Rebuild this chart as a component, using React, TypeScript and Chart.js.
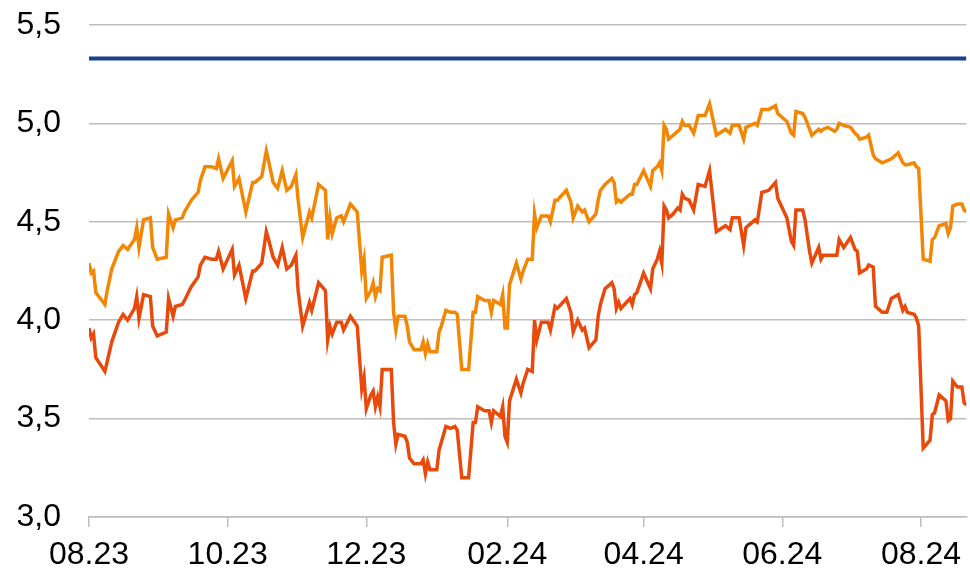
import { useEffect, useRef } from 'react';
import { Chart, registerables } from 'chart.js';

Chart.register(...registerables);

// x positions: days since 01.08.2023
const days = [
  0, 1, 2, 3, 7, 8, 10, 13, 15, 17,
  20, 21, 22, 24, 27, 28, 30, 34, 35, 37,
  38, 41, 42, 45, 48, 49, 51, 54, 56, 57,
  59, 63, 64, 66, 69, 72, 73, 76, 78, 79,
  81, 83, 85, 87, 89, 91, 92, 94, 97, 98,
  101, 104, 105, 106, 107, 109, 111, 112, 115, 118,
  120, 121, 122, 124, 125, 126, 127, 128, 129, 133,
  134, 135, 136, 139, 140, 141, 143, 146, 147, 148,
  149, 150, 153, 154, 155, 157, 159, 161, 162, 164,
  167, 169, 170, 171, 174, 176, 177, 178, 181, 182,
  183, 184, 185, 188, 190, 191, 193, 195, 196, 197,
  199, 202, 203, 205, 206, 210, 212, 213, 215, 217,
  218, 220, 223, 224, 225, 227, 230, 231, 232, 233,
  234, 238, 239, 240, 241, 244, 247, 248, 250, 251,
  252, 253, 254, 255, 257, 259, 260, 261, 262, 264,
  266, 268, 271, 273, 276, 280, 282, 283, 286, 288,
  289, 293, 294, 296, 299, 302, 303, 307, 309, 310,
  311, 314, 315, 317, 318, 321, 322, 323, 325, 328,
  329, 330, 332, 335, 337, 338, 339, 342, 343, 345,
  346, 349, 351, 353, 356, 358, 359, 360, 363, 364,
  365, 367, 370, 371, 372, 374, 377, 378, 379, 380,
  382, 384, 385, 386,
];

const orangeSeries = [
  4.29, 4.24, 4.25, 4.14, 4.08, 4.15, 4.26, 4.35, 4.38, 4.36,
  4.41, 4.47, 4.37, 4.51, 4.52, 4.37, 4.31, 4.32, 4.54, 4.47,
  4.51, 4.52, 4.55, 4.61, 4.65, 4.71, 4.78, 4.78, 4.77, 4.82,
  4.72, 4.81, 4.68, 4.72, 4.55, 4.70, 4.70, 4.73, 4.86, 4.81,
  4.70, 4.67, 4.76, 4.66, 4.68, 4.74, 4.61, 4.42, 4.55, 4.52,
  4.69, 4.66, 4.41, 4.52, 4.44, 4.52, 4.53, 4.50, 4.59, 4.55,
  4.25, 4.31, 4.11, 4.15, 4.19, 4.12, 4.16, 4.15, 4.32, 4.33,
  4.04, 3.95, 4.02, 4.02, 3.97, 3.89, 3.85, 3.85, 3.89, 3.83,
  3.88, 3.84, 3.84, 3.94, 3.97, 4.05, 4.04, 4.04, 4.03, 3.75,
  3.75, 4.04, 4.04, 4.12, 4.10, 4.10, 4.04, 4.10, 4.08, 4.13,
  3.96, 3.96, 4.18, 4.29, 4.21, 4.25, 4.31, 4.31, 4.54, 4.47,
  4.53, 4.53, 4.50, 4.61, 4.61, 4.66, 4.60, 4.52, 4.58, 4.55,
  4.56, 4.50, 4.54, 4.61, 4.66, 4.69, 4.72, 4.70, 4.60, 4.61,
  4.60, 4.64, 4.64, 4.69, 4.69, 4.76, 4.68, 4.76, 4.78, 4.80,
  4.76, 4.99, 4.97, 4.92, 4.94, 4.96, 4.97, 5.01, 4.99, 4.99,
  4.95, 5.04, 5.04, 5.10, 4.94, 4.97, 4.95, 4.99, 4.99, 4.92,
  4.98, 5.00, 4.99, 5.07, 5.07, 5.09, 5.05, 5.01, 4.95, 4.94,
  5.06, 5.05, 5.03, 4.97, 4.94, 4.97, 4.96, 4.97, 4.98, 4.96,
  4.97, 5.00, 4.99, 4.98, 4.95, 4.94, 4.92, 4.93, 4.94, 4.84,
  4.82, 4.80, 4.81, 4.82, 4.85, 4.80, 4.79, 4.79, 4.80, 4.78,
  4.77, 4.31, 4.30, 4.41, 4.42, 4.48, 4.49, 4.44, 4.47, 4.58,
  4.59, 4.59, 4.56, 4.55,
];

const redSeries = [
  3.96, 3.91, 3.93, 3.81, 3.74, 3.79, 3.89, 3.99, 4.03, 4.00,
  4.06, 4.12, 4.01, 4.13, 4.12, 3.97, 3.92, 3.94, 4.11, 4.02,
  4.07, 4.08, 4.10, 4.17, 4.22, 4.28, 4.32, 4.31, 4.31, 4.35,
  4.26, 4.36, 4.23, 4.28, 4.11, 4.25, 4.25, 4.29, 4.45, 4.41,
  4.32, 4.28, 4.37, 4.26, 4.28, 4.33, 4.15, 3.97, 4.09, 4.05,
  4.19, 4.15, 3.90, 3.97, 3.93, 3.99, 3.99, 3.95, 4.02, 3.97,
  3.65, 3.71, 3.55, 3.62, 3.64, 3.56, 3.61, 3.56, 3.75, 3.75,
  3.48, 3.37, 3.42, 3.41, 3.38, 3.30, 3.27, 3.27, 3.29, 3.22,
  3.28, 3.24, 3.24, 3.34, 3.38, 3.46, 3.45, 3.46, 3.44, 3.20,
  3.20, 3.48, 3.48, 3.56, 3.54, 3.54, 3.48, 3.54, 3.51, 3.56,
  3.41, 3.38, 3.59, 3.70, 3.63, 3.68, 3.75, 3.74, 4.00, 3.90,
  3.99, 3.99, 3.95, 4.07, 4.06, 4.11, 4.04, 3.94, 4.00, 3.95,
  3.96, 3.86, 3.90, 4.02, 4.08, 4.16, 4.19, 4.16, 4.06, 4.09,
  4.06, 4.11, 4.08, 4.13, 4.14, 4.24, 4.16, 4.26, 4.31, 4.35,
  4.29, 4.58, 4.56, 4.52, 4.54, 4.57, 4.56, 4.64, 4.62, 4.61,
  4.56, 4.69, 4.68, 4.76, 4.45, 4.48, 4.46, 4.52, 4.52, 4.38,
  4.47, 4.51, 4.50, 4.65, 4.66, 4.70, 4.62, 4.52, 4.40, 4.38,
  4.56, 4.56, 4.51, 4.35, 4.29, 4.37, 4.31, 4.33, 4.33, 4.33,
  4.33, 4.41, 4.37, 4.42, 4.36, 4.35, 4.24, 4.26, 4.28, 4.27,
  4.07, 4.04, 4.04, 4.11, 4.13, 4.05, 4.07, 4.04, 4.03, 4.01,
  3.97, 3.35, 3.39, 3.52, 3.53, 3.62, 3.59, 3.49, 3.50, 3.69,
  3.66, 3.66, 3.58, 3.57,
];

const policyDays = [0, 386];
const policyRate = [5.33, 5.33];

const tickDays = [0, 61, 122, 184, 244, 305, 366];
const tickLabels = ['08.23', '10.23', '12.23', '02.24', '04.24', '06.24', '08.24'];

const FONT = { family: "'Liberation Sans', Arial, sans-serif", size: 32 };
const GRID = '#BDBDBD';

export default function App() {
  const ref = useRef<HTMLCanvasElement | null>(null);

  useEffect(() => {
    if (!ref.current) return;
    const chart = new Chart(ref.current, {
      type: 'line',
      data: {
        datasets: [
          {
            data: policyDays.map((d, i) => ({ x: d, y: policyRate[i] })),
            borderColor: '#1B3F8F',
            borderWidth: 4,
            pointRadius: 0,
          },
          {
            data: days.map((d, i) => ({ x: d, y: orangeSeries[i] })),
            borderColor: '#F28705',
            borderWidth: 3.5,
            pointRadius: 0,
          },
          {
            data: days.map((d, i) => ({ x: d, y: redSeries[i] })),
            borderColor: '#E84A0C',
            borderWidth: 3.5,
            pointRadius: 0,
          },
        ],
      },
      options: {
        responsive: false,
        animation: false,
        layout: { padding: { top: 25, left: 0, right: 0, bottom: 0 } },
        plugins: { legend: { display: false }, tooltip: { enabled: false } },
        scales: {
          x: {
            type: 'linear',
            min: 0,
            max: 386,
            afterBuildTicks: (scale: any) => {
              scale.ticks = tickDays.map((v) => ({ value: v }));
            },
            afterFit: (scale: any) => {
              scale.height = 54;
            },
            ticks: {
              autoSkip: false,
              maxRotation: 0,
              padding: 9,
              color: '#000',
              font: FONT,
              callback: (v: any) => {
                const i = tickDays.indexOf(Number(v));
                return i >= 0 ? tickLabels[i] : '';
              },
            },
            grid: {
              drawOnChartArea: false,
              drawTicks: true,
              tickLength: 10,
              color: GRID,
              lineWidth: 1.5,
            },
            border: { display: true, color: GRID, width: 1.5 },
          },
          y: {
            min: 3,
            max: 5.5,
            afterFit: (scale: any) => {
              scale.width = 89;
            },
            ticks: {
              stepSize: 0.5,
              padding: 0,
              color: '#000',
              font: FONT,
              callback: (v: any) => Number(v).toFixed(1).replace('.', ','),
            },
            grid: {
              color: GRID,
              lineWidth: 1.5,
              drawTicks: true,
              tickLength: 28,
              tickColor: 'rgba(0,0,0,0)',
            },
            border: { display: false },
          },
        },
      },
    });
    return () => chart.destroy();
  }, []);

  return (
    <div style={{ position: 'absolute', left: 0, top: 0, width: 970, height: 571, background: '#fff' }}>
      <canvas ref={ref} width={970} height={571} style={{ display: 'block' }} />
    </div>
  );
}
